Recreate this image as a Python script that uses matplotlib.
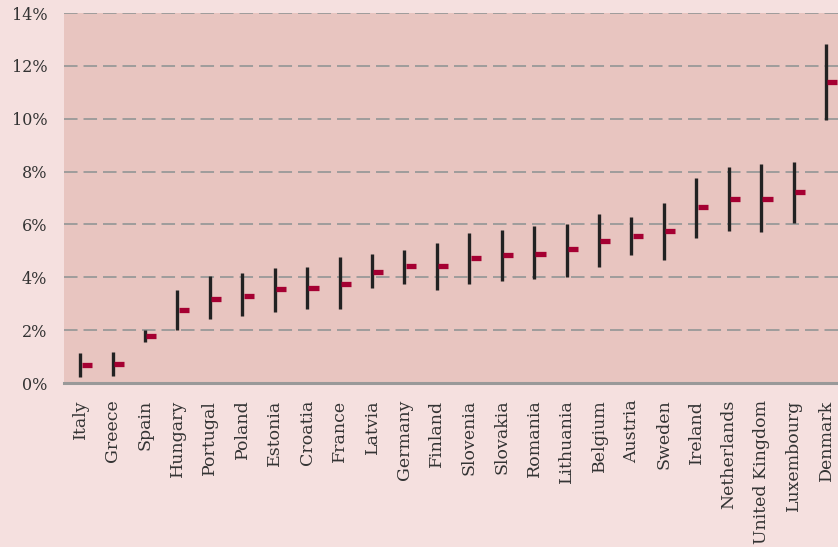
import matplotlib
matplotlib.use("Agg")
import matplotlib.pyplot as plt
import numpy as np

countries = ["Italy", "Greece", "Spain", "Hungary", "Portugal", "Poland", "Estonia",
             "Croatia", "France", "Latvia", "Germany", "Finland", "Slovenia", "Slovakia",
             "Romania", "Lithuania", "Belgium", "Austria", "Sweden", "Ireland",
             "Netherlands", "United Kingdom", "Luxembourg", "Denmark"]
low = [0.24, 0.28, 1.56, 2.00, 2.42, 2.52, 2.70, 2.80, 2.81, 3.58, 3.75, 3.52,
       3.75, 3.87, 3.95, 4.02, 4.38, 4.84, 4.65, 5.50, 5.76, 5.70, 6.07, 9.95]
high = [1.12, 1.16, 2.00, 3.52, 4.05, 4.16, 4.34, 4.40, 4.78, 4.87, 5.03, 5.29,
        5.66, 5.78, 5.94, 6.03, 6.39, 6.27, 6.82, 7.74, 8.16, 8.27, 8.35, 12.84]
point = [0.67, 0.71, 1.77, 2.75, 3.17, 3.28, 3.54, 3.58, 3.73, 4.19, 4.41, 4.41,
         4.72, 4.83, 4.87, 5.06, 5.36, 5.55, 5.74, 6.65, 6.95, 6.95, 7.21, 11.38]
yticks = [0, 2, 4, 6, 8, 10, 12, 14]

fig_bg = "#f5e0df"
ax_bg = "#e8c5c0"
red = "#a50032"
dark = "#222222"

fig = plt.figure(figsize=(8.38, 5.47), dpi=100, facecolor=fig_bg)
ax = fig.add_axes([64 / 838, 1 - 383 / 547, 1 - 64 / 838, (383 - 13) / 547])
ax.set_facecolor(ax_bg)

x = np.arange(len(countries))
ax.vlines(x, low, high, color=dark, lw=2.4, zorder=3)
ax.hlines(point, x + 0.04, x + 0.35, color=red, lw=3.8, zorder=4)

ax.set_xlim(-0.5, 23.37)
ax.set_ylim(0, 14)
ax.set_yticks(yticks)
ax.set_yticklabels([f"{v}%" for v in yticks])
ax.set_xticks(x)
ax.set_xticklabels(countries, rotation=90, va="top", ha="center")

ax.grid(axis="y", color="#999999", linestyle=(0, (7.5, 3.3)), lw=1.3, zorder=1)
ax.grid(axis="x", visible=False)
ax.set_axisbelow(True)

for side in ["top", "right", "left"]:
    ax.spines[side].set_visible(False)
ax.spines["bottom"].set_color("#999999")
ax.spines["bottom"].set_linewidth(2.2)

ax.tick_params(axis="both", length=0, labelcolor="#333333",
               labelfontfamily=["DejaVu Serif"])
ax.tick_params(axis="y", pad=12, labelsize=11.5)
ax.tick_params(axis="x", pad=12, labelsize=12.5)

fig.savefig("out.png", dpi=100, facecolor=fig_bg)
